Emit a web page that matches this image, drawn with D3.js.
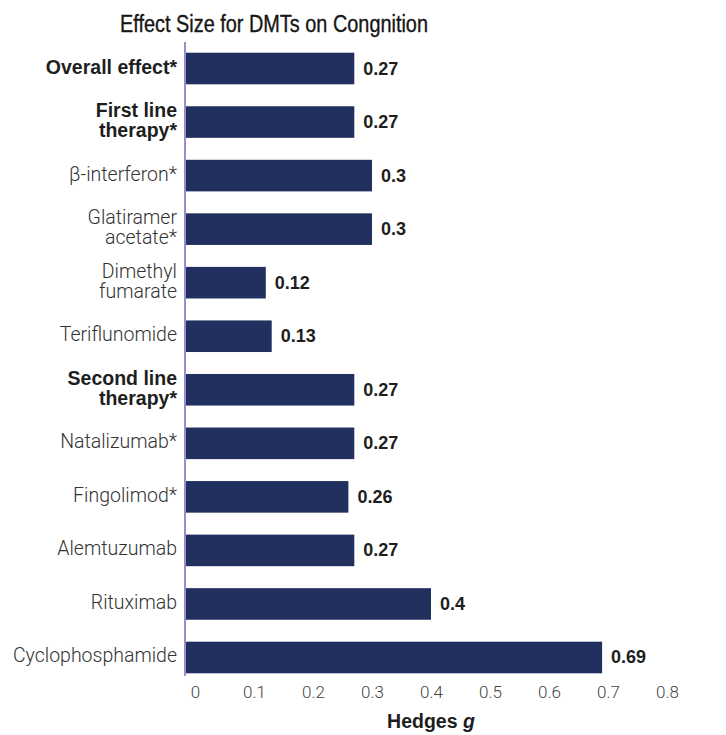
<!DOCTYPE html>
<html>
<head>
<meta charset="utf-8">
<script src="https://cdn.jsdelivr.net/npm/d3@7"></script>
<style>
  html, body { margin: 0; padding: 0; background: #fff; }
  svg { display: block; }
</style>
</head>
<body>
<div id="chart"></div>
<script>
// ---- data ----
const titleText = "Effect Size for DMTs on Congnition";
const categories = [
  ["Overall effect*"],
  ["First line", "therapy*"],
  ["β-interferon*"],
  ["Glatiramer", "acetate*"],
  ["Dimethyl", "fumarate"],
  ["Teriflunomide"],
  ["Second line", "therapy*"],
  ["Natalizumab*"],
  ["Fingolimod*"],
  ["Alemtuzumab"],
  ["Rituximab"],
  ["Cyclophosphamide"]
];
const boldCategory = [true, true, false, false, false, false, true, false, false, false, false, false];
const values = [0.27, 0.27, 0.3, 0.3, 0.12, 0.13, 0.27, 0.27, 0.26, 0.27, 0.4, 0.69];
const valueLabels = ["0.27", "0.27", "0.3", "0.3", "0.12", "0.13", "0.27", "0.27", "0.26", "0.27", "0.4", "0.69"];
const tickValues = [0, 0.1, 0.2, 0.3, 0.4, 0.5, 0.6, 0.7, 0.8];
const tickLabels = ["0", "0.1", "0.2", "0.3", "0.4", "0.5", "0.6", "0.7", "0.8"];
const axisTitle = "Hedges ";
const axisTitleItalic = "g";

// ---- layout ----
const W = 726, H = 735;
const barColor = "#22305f";
const axisColor = "#9a8dcc";

const svg = d3.select("#chart").append("svg")
  .attr("width", W).attr("height", H);

const x = d3.scaleLinear().domain([0, 0.8]).range([195, 667]);
const idx = d3.range(categories.length);
const y = d3.scaleBand().domain(idx).range([42, 684]).paddingInner(0.41).paddingOuter(0.2);
const axisX = x(0) - 10;

// title
svg.append("text")
  .attr("x", 274).attr("y", 31.5)
  .attr("text-anchor", "middle")
  .attr("textLength", 308).attr("lengthAdjust", "spacingAndGlyphs")
  .style("font-family", "'Liberation Sans', Arial, sans-serif")
  .style("font-weight", "400")
  .style("font-size", "23.5px")
  .style("fill", "#161616")
  .style("stroke", "#161616")
  .style("stroke-width", "0.35px")
  .text(titleText);

// bars
svg.append("g").selectAll("rect")
  .data(idx)
  .join("rect")
  .attr("x", axisX)
  .attr("y", i => y(i))
  .attr("width", i => x(values[i]) - axisX)
  .attr("height", y.bandwidth())
  .attr("fill", barColor);

// axis line
svg.append("line")
  .attr("x1", axisX).attr("x2", axisX)
  .attr("y1", 42).attr("y2", 676)
  .attr("stroke", axisColor).attr("stroke-width", 2);

// value labels
svg.append("g").selectAll("text")
  .data(idx)
  .join("text")
  .attr("x", i => x(values[i]) + 9)
  .attr("y", i => y(i) + y.bandwidth() / 2 + 6)
  .style("font-family", "'Liberation Sans', Arial, sans-serif")
  .style("font-weight", "bold")
  .style("font-size", "18px")
  .style("fill", "#1e1e1e")
  .text(i => valueLabels[i]);

// category labels
const catG = svg.append("g");
idx.forEach(i => {
  const lines = categories[i];
  const cy = y(i) + y.bandwidth() / 2;
  const t = catG.append("text")
    .attr("text-anchor", "end")
    .style("font-family", boldCategory[i] ? "'Liberation Sans', Arial, sans-serif" : "Roboto, 'Liberation Sans', sans-serif")
    .style("font-weight", boldCategory[i] ? "bold" : "300")
    .style("font-size", "19.5px")
    .style("fill", boldCategory[i] ? "#1e1e1e" : "#333");
  lines.forEach((ln, k) => {
    t.append("tspan")
      .attr("x", 177)
      .attr("y", cy + 5 - (lines.length - 1) * 10 + k * 20)
      .text(ln);
  });
});

// x tick labels
const xAxis = d3.axisBottom(x).tickValues(tickValues).tickFormat((d, i) => tickLabels[i]).tickSize(0).tickPadding(0);
const gx = svg.append("g").attr("transform", "translate(0,686)").call(xAxis);
gx.select(".domain").remove();
gx.selectAll("text")
  .style("font-family", "Roboto, 'Liberation Sans', sans-serif")
  .style("font-weight", "300")
  .style("font-size", "17px")
  .style("fill", "#444");

// axis title
const at = svg.append("text")
  .attr("x", (x(0) + x(0.8)) / 2).attr("y", 728)
  .attr("text-anchor", "middle")
  .style("font-family", "'Liberation Sans', Arial, sans-serif")
  .style("font-weight", "bold")
  .style("font-size", "19.5px")
  .style("fill", "#1e1e1e");
at.append("tspan").text(axisTitle);
at.append("tspan").style("font-style", "italic").text(axisTitleItalic);
</script>
</body>
</html>
